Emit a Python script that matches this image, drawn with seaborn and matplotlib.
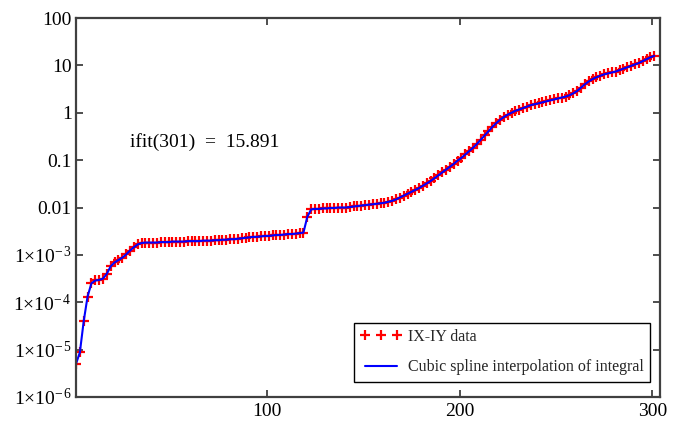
import numpy as np
import pandas as pd
import matplotlib
matplotlib.use("Agg")
import matplotlib.pyplot as plt
import seaborn as sns
from matplotlib.ticker import FixedLocator, NullLocator

# ---- data ----
ix_data = list(range(1, 302, 2))
iy_data = [
    5.01e-6, 8.71e-6, 3.98e-5, 1.32e-4, 2.51e-4, 2.88e-4, 2.95e-4, 3.16e-4, 3.98e-4, 5.75e-4,
    6.92e-4, 7.76e-4, 8.71e-4, 1.02e-3, 1.23e-3, 1.45e-3, 1.66e-3, 1.78e-3, 1.82e-3, 1.82e-3,
    1.82e-3, 1.82e-3, 1.86e-3, 1.86e-3, 1.86e-3, 1.91e-3, 1.91e-3, 1.91e-3, 1.91e-3, 1.95e-3,
    1.95e-3, 1.95e-3, 1.95e-3, 2.00e-3, 2.00e-3, 2.00e-3, 2.04e-3, 2.04e-3, 2.09e-3, 2.09e-3,
    2.14e-3, 2.14e-3, 2.19e-3, 2.24e-3, 2.29e-3, 2.34e-3, 2.40e-3, 2.40e-3, 2.45e-3, 2.51e-3,
    2.51e-3, 2.57e-3, 2.63e-3, 2.63e-3, 2.69e-3, 2.75e-3, 2.75e-3, 2.82e-3, 2.88e-3, 2.95e-3,
    6.31e-3, 9.12e-3, 9.33e-3, 9.33e-3, 9.55e-3, 9.55e-3, 9.77e-3, 9.77e-3, 1.00e-2, 1.00e-2,
    1.00e-2, 1.02e-2, 1.05e-2, 1.07e-2, 1.10e-2, 1.12e-2, 1.15e-2, 1.17e-2, 1.20e-2, 1.23e-2,
    1.26e-2, 1.32e-2, 1.38e-2, 1.48e-2, 1.62e-2, 1.78e-2, 1.95e-2, 2.14e-2, 2.34e-2, 2.57e-2,
    2.88e-2, 3.24e-2, 3.63e-2, 4.17e-2, 4.79e-2, 5.50e-2, 6.31e-2, 7.24e-2, 8.32e-2, 9.77e-2,
    0.112, 0.132, 0.155, 0.182, 0.219, 0.269, 0.331, 0.407, 0.501, 0.603,
    0.708, 0.813, 0.912, 1.00, 1.10, 1.17, 1.26, 1.35, 1.45, 1.51,
    1.58, 1.66, 1.74, 1.82, 1.91, 2.00, 2.09, 2.19, 2.34, 2.57,
    2.88, 3.39, 3.98, 4.57, 5.13, 5.62, 6.03, 6.46, 6.76, 7.08,
    7.41, 7.94, 8.51, 9.12, 9.77, 10.5, 11.2, 12.3, 13.5, 14.8,
    15.891,
]
x_ticks = [100, 200, 300]
x_tick_labels = ["100", "200", "300"]
y_ticks = [1e-6, 1e-5, 1e-4, 1e-3, 0.01, 0.1, 1, 10, 100]
y_tick_labels = [r"$\mathregular{1{\times}10^{-\,6}}$", r"$\mathregular{1{\times}10^{-\,5}}$",
                 r"$\mathregular{1{\times}10^{-\,4}}$", r"$\mathregular{1{\times}10^{-\,3}}$",
                 "0.01", "0.1", "1", "10", "100"]
data_label = "IX-IY data"
fit_label = "Cubic spline interpolation of integral"
annotation = "ifit(301)  =  15.891"

df = pd.DataFrame({"x": ix_data, "y": iy_data})

sns.set_style("white")
plt.rcParams["font.family"] = ["Liberation Serif", "DejaVu Serif"]
plt.rcParams["mathtext.fontset"] = "custom"
plt.rcParams["mathtext.rm"] = "Liberation Serif"
plt.rcParams["mathtext.it"] = "Liberation Serif:italic"
plt.rcParams["mathtext.bf"] = "Liberation Serif:bold"

fig = plt.figure(figsize=(6.87, 4.32), dpi=100)
ax = fig.add_axes([76 / 687, 1 - 397 / 432, 584 / 687, 379 / 432])

sns.lineplot(data=df, x="x", y="y", ax=ax, color="#ff0000", marker="+", linestyle="",
             markersize=7.5, markeredgewidth=1.6, markeredgecolor="#ff0000",
             label=data_label)
sns.lineplot(data=df, x="x", y="y", ax=ax, color="#0000ff", linewidth=1.5, label=fit_label)

ax.set_yscale("log")
ax.set_xlim(1, 304)
ax.set_ylim(1e-6, 100)
ax.yaxis.set_major_locator(FixedLocator(y_ticks))
ax.yaxis.set_minor_locator(NullLocator())
ax.set_yticklabels(y_tick_labels)
ax.xaxis.set_major_locator(FixedLocator(x_ticks))
ax.xaxis.set_minor_locator(NullLocator())
ax.set_xticklabels(x_tick_labels)
ax.set_xlabel("")
ax.set_ylabel("")

ax.tick_params(axis="both", which="major", direction="in", length=5, width=1.3,
               color="#404040", labelsize=14, labelcolor="black", pad=4)
ax.tick_params(axis="x", top=True, bottom=True)
ax.tick_params(axis="y", left=True, right=True, pad=3)
for sp in ax.spines.values():
    sp.set_color("#404040")
    sp.set_linewidth(1.6)

ax.text((130 - 76) / 584, (397 - 141.7) / 379, annotation,
        transform=ax.transAxes, ha="left", va="center", fontsize=14, color="black")

leg = ax.legend(loc="lower right", bbox_to_anchor=(0.983, 0.040), borderaxespad=0,
                numpoints=3, fontsize=11.5, frameon=True, fancybox=False, framealpha=1,
                edgecolor="black", handlelength=2.6, handletextpad=0.4,
                labelspacing=0.9, borderpad=0.4)
leg.get_frame().set_linewidth(1.0)

fig.savefig("out.png", dpi=100)
